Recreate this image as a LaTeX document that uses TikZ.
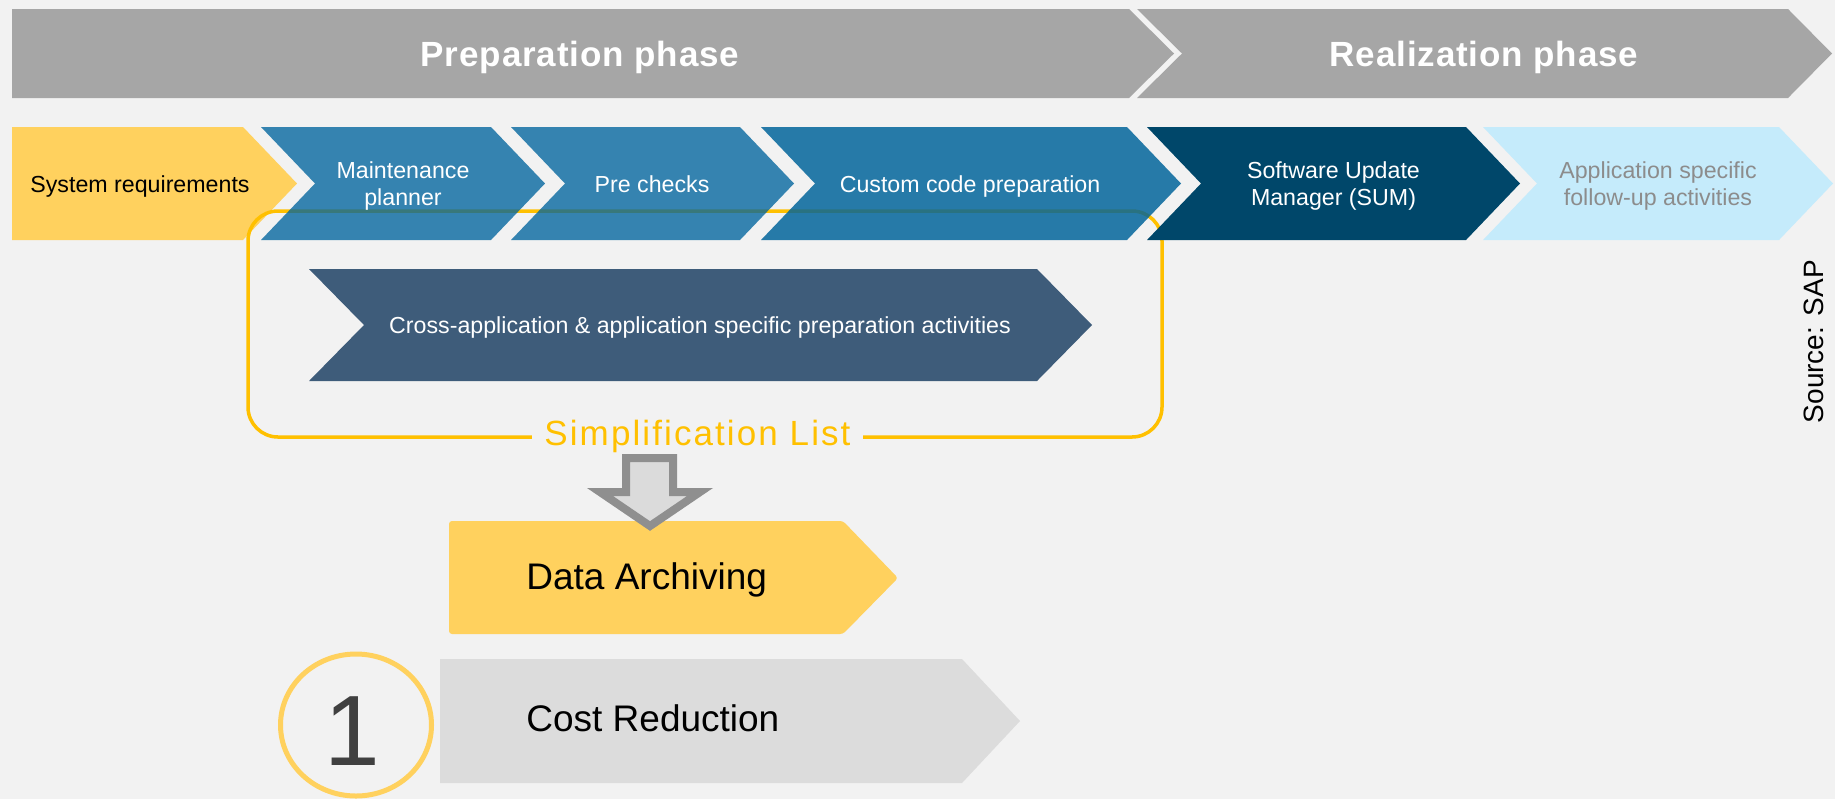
\documentclass[tikz,border=0pt]{standalone}
\usepackage{fontspec}
\setmainfont{Liberation Sans}
\newfontfamily\trackfont[LetterSpace=2.5]{Liberation Sans}
\newfontfamily\widefont[LetterSpace=6]{Liberation Sans}
\begin{document}
\begin{tikzpicture}[x=0.5pt, y=-0.5pt,
  small/.style={font=\fontsize{11.6}{13.4}\selectfont, align=center, text opacity=1},
  phase/.style={font=\trackfont\bfseries\fontsize{17.5}{20}\selectfont, text=white, anchor=base},
  big/.style={font=\fontsize{18.5}{22}\selectfont, text=black, anchor=base west, inner sep=0pt}]
\definecolor{bg}{HTML}{F2F2F2}
\fill[bg] (0,0) rectangle (1835,799);
\useasboundingbox (0,0) rectangle (1835,799);
% phases
\definecolor{col}{HTML}{A6A6A6}
\fill[col] (12,9) -- (1129,9) -- (1174,53.5) -- (1129,98) -- (12,98) -- cycle (580,66) node[phase] (prep) {Preparation phase};
\fill[col] (1137,9) -- (1788,9) -- (1832,53.5) -- (1788,98) -- (1137,98) -- (1182,53.5) -- cycle (1484,66) node[phase] (real) {Realization phase};
% steps
\definecolor{col}{HTML}{FFD15E}
\fill[col] (12,127) -- (243,127) -- (297,183.5) -- (243,240) -- (12,240) -- cycle (140,192.7) node[small, text=black, anchor=base] (sysreq) {System requirements};
\definecolor{boxyellow}{HTML}{FFC000}
\draw[boxyellow, line width=1.75pt, rounded corners=15pt] (248,211) rectangle (1162,437);
\definecolor{col}{HTML}{00659E}
\fill[col, fill opacity=0.78] (261,127) -- (491,127) -- (545,183.5) -- (491,240) -- (261,240) -- (315,183.5) -- cycle (403,185.6) node[small, text=white] (maint) {Maintenance\\planner};
\fill[col, fill opacity=0.78] (511,127) -- (740,127) -- (794,183.5) -- (740,240) -- (511,240) -- (565,183.5) -- cycle (652,192.7) node[small, text=white, anchor=base] (prechk) {Pre checks};
\definecolor{col}{HTML}{00649A}
\fill[col, fill opacity=0.84] (761,127) -- (1127,127) -- (1181,183.5) -- (1127,240) -- (761,240) -- (815,183.5) -- cycle (970,192.7) node[small, text=white, anchor=base] (custom) {Custom code preparation};
\definecolor{col}{HTML}{00476A}
\fill[col] (1147,127) -- (1466,127) -- (1520,183.5) -- (1466,240) -- (1147,240) -- (1201,183.5) -- cycle (1333.5,185.6) node[small, text=white] (sum) {Software Update\\Manager (SUM)};
\definecolor{col}{HTML}{C5EBFB}
\fill[col] (1483,127) -- (1779,127) -- (1833,183.5) -- (1779,240) -- (1483,240) -- (1537,183.5) -- cycle (1658,185.6) node[small, text=black!45] (followup) {Application specific\\follow-up activities};
% cross-application
\definecolor{col}{HTML}{3E5C7A}
\fill[col] (309,269) -- (1037,269) -- (1092,325) -- (1037,381) -- (309,381) -- (364,325) -- cycle (700,333.3) node[small, text=white, anchor=base] (cross) {Cross-application \& application specific preparation activities};
\node[font=\widefont\fontsize{17.5}{20}\selectfont, text=boxyellow, fill=bg, anchor=base, inner xsep=6pt] (simpl) at (697.5,445) {Simplification List};
% result
\definecolor{col}{HTML}{FFD15E}
\fill[col, rounded corners=1.5pt] (449,521) -- (843,521) -- (898,578) -- (843,634) -- (449,634) -- cycle (526,589.3) node[big] (archiv) {Data Archiving};
\draw[draw=black!44, fill=black!14, line width=4pt, miter limit=10] (626,458) -- (673,458) -- (673,492) -- (700,492) -- (650,526) -- (600,492) -- (626,492) -- cycle;
\definecolor{col}{HTML}{DCDCDC}
\fill[col] (440,659) -- (962,659) -- (1020,721) -- (962,783) -- (440,783) -- cycle (526,731.7) node[big] (costred) {Cost Reduction};
\definecolor{col}{HTML}{FFD15E}
\draw[col, line width=2.5pt] (356,725) ellipse [x radius=75.5, y radius=71];
\node[font=\fontsize{50}{56}\selectfont, text=black!75, anchor=base] (one) at (352,765) {1};
\node[font=\fontsize{14}{16}\selectfont, rotate=90, anchor=base] (source) at (1823,341.7) {Source: SAP};
\end{tikzpicture}
\end{document}
